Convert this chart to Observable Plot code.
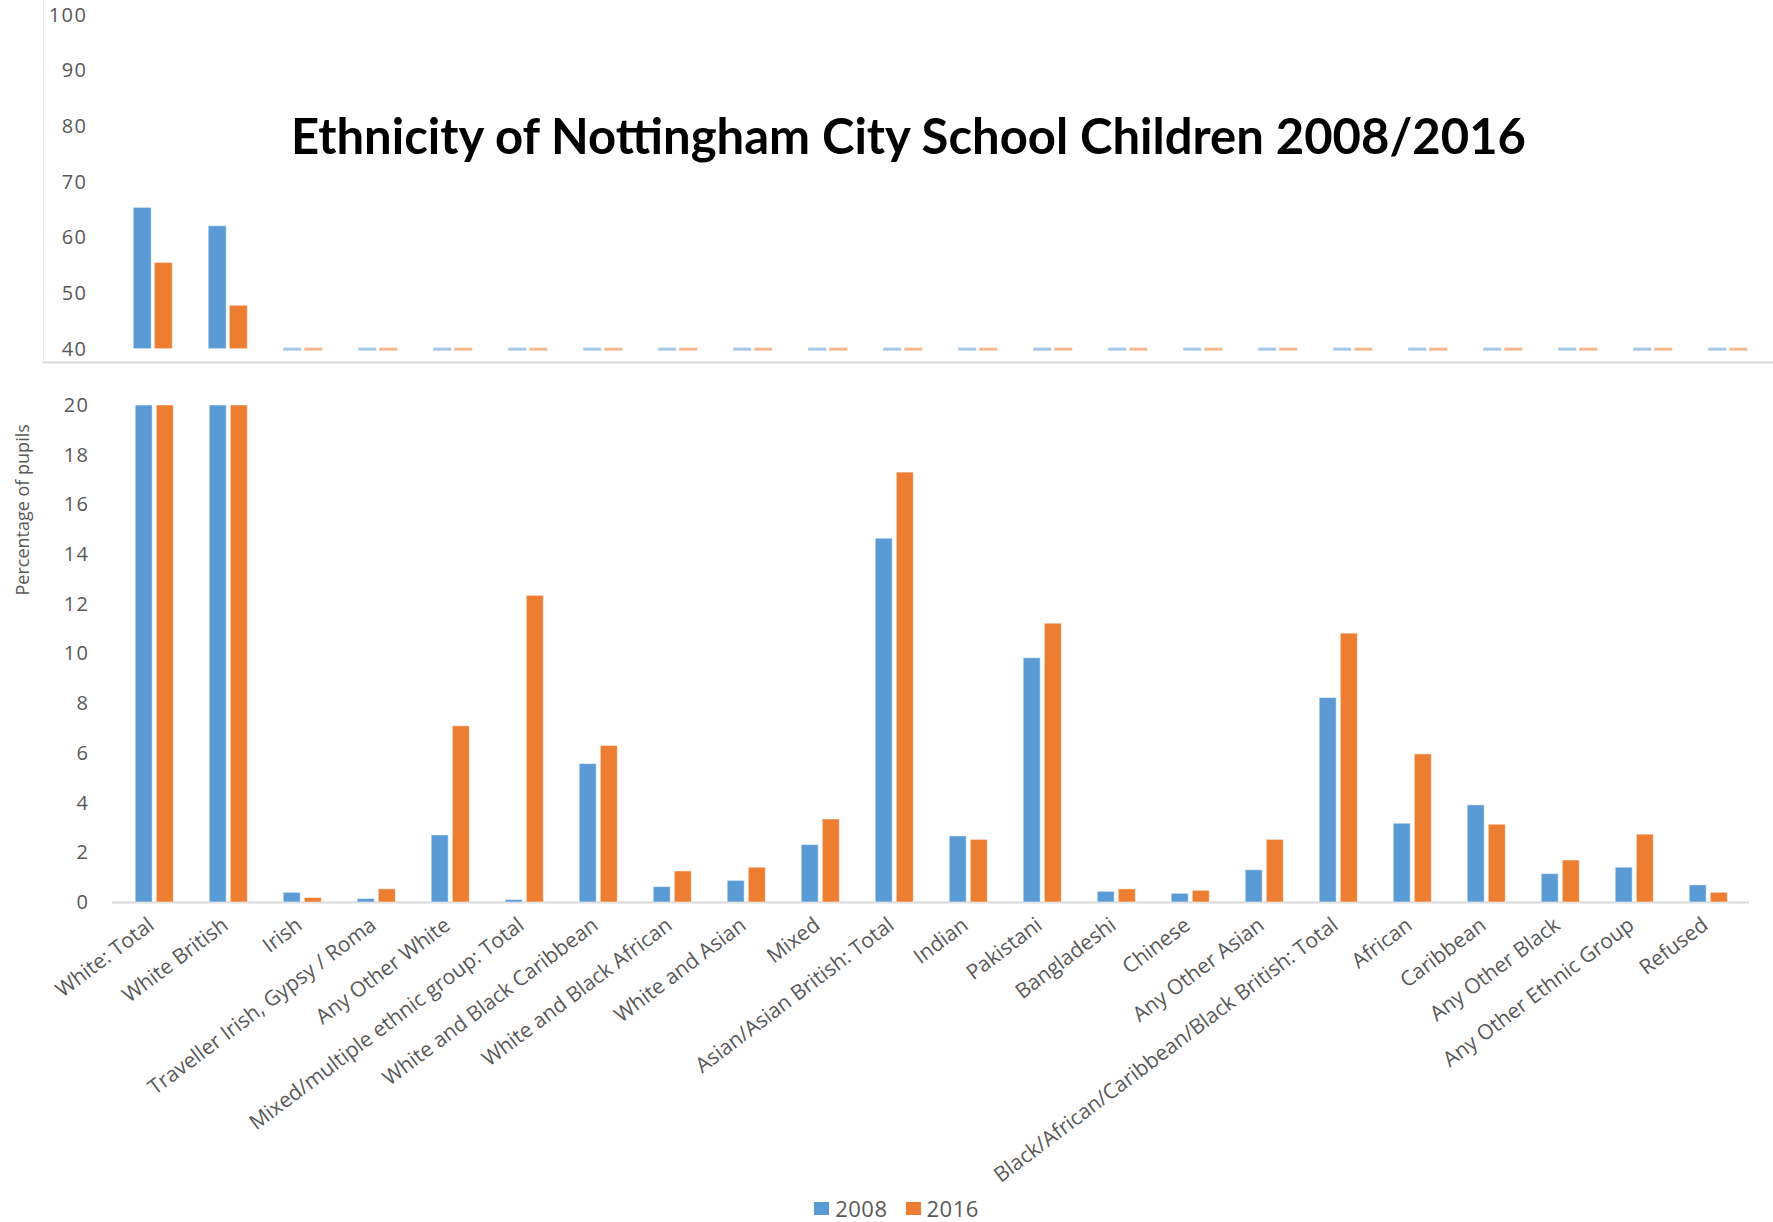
<!DOCTYPE html>
<html><head><meta charset="utf-8">
<script src="https://cdn.jsdelivr.net/npm/d3@7"></script>
<script src="https://cdn.jsdelivr.net/npm/@observablehq/plot@0.6"></script>
<style>
body{margin:0;background:#fff;width:1773px;height:1222px;overflow:hidden;font-family:"Open Sans",sans-serif;}
#top,#bottom{line-height:0;}
#legend{display:flex;justify-content:center;align-items:center;height:32px;padding-left:20px;padding-top:2px;font-size:22px;color:#595959;letter-spacing:0.5px;}
.item{display:flex;align-items:center;margin:0 9px;}
.sw{width:15px;height:13px;display:inline-block;margin-right:6px;}
g[aria-label="y-axis tick label"] text{letter-spacing:1.5px;}
</style></head><body>
<div id="top"></div><div id="bottom"></div><div id="legend"></div>
<script>
const categories = ["White: Total","White British","Irish","Traveller Irish, Gypsy / Roma","Any Other White","Mixed/multiple ethnic group: Total","White and Black Caribbean","White and Black African","White and Asian","Mixed","Asian/Asian British: Total","Indian","Pakistani","Bangladeshi","Chinese","Any Other Asian","Black/African/Caribbean/Black British: Total","African","Caribbean","Any Other Black","Any Other Ethnic Group","Refused"];
const values2008 = [65.4,62.1,0.39,0.14,2.7,0.1,5.57,0.62,0.87,2.31,14.64,2.66,9.83,0.43,0.35,1.3,8.23,3.17,3.91,1.14,1.4,0.69];
const values2016 = [55.5,47.8,0.18,0.53,7.09,12.34,6.3,1.25,1.4,3.34,17.3,2.52,11.22,0.53,0.47,2.52,10.82,5.96,3.13,1.69,2.73,0.39];
const years = ["2008","2016"];
const colors = ["#5B9BD5","#ED7D31"];
const topTicks = [40,50,60,70,80,90,100];
const bottomTicks = [0,2,4,6,8,10,12,14,16,18,20];
const chartTitle = "Ethnicity of Nottingham City School Children 2008/2016";
const yLabel = "Percentage of pupils";

const topBase = 40, bottomMax = 20;
const rows = categories.map((c,i)=>({category:c, v2008:values2008[i], v2016:values2016[i]}));
const series = [{key:"v2008", color:colors[0], dx:-10.3},{key:"v2016", color:colors[1], dx:10.8}];
const inset = 28.5;

const topMarks = [
  Plot.frame({anchor:"left", stroke:"#ececec", strokeWidth:1}),
  Plot.frame({anchor:"bottom", stroke:"#d9d9d9", strokeWidth:2}),
  Plot.axisY(topTicks, {tickSize:0, tickPadding:-44, fontSize:20, fill:"#595959"}),
];
for (const s of series) {
  topMarks.push(Plot.barY(rows.filter(d=>d[s.key]>topBase), {x:"category", y1:()=>topBase, y2:d=>d[s.key], fill:s.color, stroke:"#fff", strokeOpacity:0.5, strokeWidth:1, insetLeft:inset, insetRight:inset, dx:s.dx}));
  topMarks.push(Plot.tickY(rows.filter(d=>d[s.key]<=topBase), {x:"category", y:()=>topBase, stroke:s.color, strokeOpacity:0.55, strokeWidth:3, insetLeft:inset, insetRight:inset, dx:s.dx}));
}
topMarks.push(Plot.text([chartTitle], {frameAnchor:"top", dy:152, lineAnchor:"bottom", fontSize:49, fontWeight:"bold", fill:"#000", fontFamily:"Lato"}));

const topPlot = Plot.plot({
  width:1773, height:364, marginLeft:43, marginRight:0, marginTop:1, marginBottom:2,
  style:{fontFamily:"Open Sans", background:"#fff"},
  x:{domain:categories, range:[112,1767], padding:0, axis:null},
  y:{domain:[37.6,102.5], axis:null},
  marks: topMarks
});
document.getElementById("top").appendChild(topPlot);

const botMarks = [
  Plot.ruleY([0], {stroke:"#d9d9d9", strokeWidth:2}),
];
for (const s of series) {
  botMarks.push(Plot.barY(rows, {x:"category", y:d=>Math.min(d[s.key], bottomMax), fill:s.color, stroke:"#fff", strokeOpacity:0.5, strokeWidth:1, insetLeft:inset, insetRight:inset, dx:s.dx}));
}
botMarks.push(
  Plot.axisY(bottomTicks, {tickSize:0, tickPadding:23, fontSize:20, fill:"#595959"}),
  Plot.axisX({tickSize:0, tickRotate:-37, tickPadding:20, dx:-3, fontSize:21, fill:"#595959"}),
  Plot.text([yLabel], {frameAnchor:"left", y:()=>15.8, dx:-89, rotate:-90, textAnchor:"middle", fontSize:18, fill:"#595959"})
);
const botPlot = Plot.plot({
  width:1773, height:826, marginLeft:112, marginRight:24, marginTop:41, marginBottom:288,
  style:{fontFamily:"Open Sans", background:"#fff", overflow:"visible"},
  x:{domain:categories, padding:0, label:null},
  y:{domain:[0,bottomMax], label:null},
  marks: botMarks
});
document.getElementById("bottom").appendChild(botPlot);

const lg = document.getElementById("legend");
years.forEach((y,i)=>{
  const it = document.createElement("div"); it.className="item";
  const sw = document.createElement("span"); sw.className="sw"; sw.style.background=colors[i];
  const t = document.createElement("span"); t.textContent=y;
  it.appendChild(sw); it.appendChild(t); lg.appendChild(it);
});
</script>
</body></html>
